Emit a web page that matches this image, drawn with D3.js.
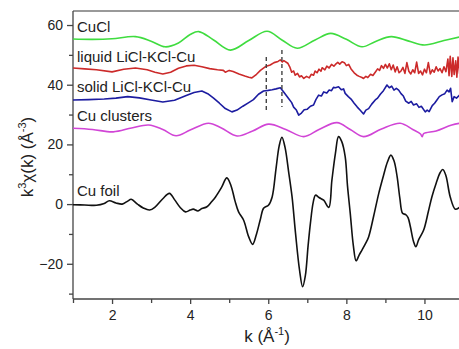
<!DOCTYPE html>
<html>
<head>
<meta charset="utf-8">
<script src="https://cdn.jsdelivr.net/npm/d3@7"></script>
<style>
  body { margin: 0; background: #fff; }
  text { font-family: "Liberation Sans", Arial, sans-serif; fill: #222; }
</style>
</head>
<body>
<svg id="chart" width="459" height="349"></svg>
<script>
// series, values already include the vertical offsets
const seriesNames = ["CuCl", "liquid LiCl-KCl-Cu", "solid LiCl-KCl-Cu", "Cu clusters", "Cu foil"];
const seriesOffsets = [55, 45, 35, 25, 0];

const cuclK = [1.0, 1.5, 2.0, 2.6, 3.0, 3.36, 3.7, 4.0, 4.22, 4.6, 5.03, 5.5, 5.97, 6.35, 6.74, 7.2, 7.6, 8.0, 8.4, 8.75, 9.15, 9.6, 10.0, 10.5, 10.9, 11.0];
const cuclV = [55.3, 55.2, 55.4, 56.1, 54.6, 52.7, 54.0, 56.8, 57.8, 55.0, 51.6, 54.8, 57.9, 55.0, 52.2, 55.0, 57.2, 55.2, 52.7, 54.5, 56.1, 54.6, 53.3, 54.8, 56.0, 56.3];

const liquidK = [1.0, 1.3, 1.6, 2.0, 2.3, 2.6, 2.9, 3.1, 3.3, 3.5, 3.7, 3.9, 4.1, 4.3, 4.5, 4.7, 4.85, 4.9, 5.0, 5.1, 5.25, 5.4, 5.5, 5.58, 5.7, 5.8, 5.93, 6.05, 6.15, 6.25, 6.31, 6.36, 6.4, 6.5, 6.55, 6.6, 6.65, 6.69, 6.75, 6.8, 6.85, 6.91, 6.98, 7.05, 7.1, 7.16, 7.2, 7.25, 7.3, 7.35, 7.38, 7.45, 7.5, 7.56, 7.62, 7.68, 7.72, 7.78, 7.83, 7.89, 7.95, 8.0, 8.06, 8.12, 8.2, 8.27, 8.33, 8.4, 8.44, 8.5, 8.55, 8.62, 8.68, 8.74, 8.8, 8.85, 8.9, 8.95, 9.0, 9.05, 9.1, 9.15, 9.2, 9.25, 9.3, 9.35, 9.4, 9.45, 9.5, 9.55, 9.6, 9.65, 9.7, 9.75, 9.8, 9.85, 9.9, 9.95, 10.0, 10.05, 10.1, 10.15, 10.2, 10.25, 10.3, 10.35, 10.4, 10.45, 10.5, 10.55, 10.6, 10.63, 10.66, 10.7, 10.73, 10.76, 10.8, 10.83, 10.86, 10.9, 10.95, 11.0];
const liquidV = [45.6, 45.3, 45.0, 44.3, 45.2, 45.6, 45.0, 44.2, 43.6, 44.2, 45.5, 46.3, 46.5, 46.0, 45.4, 45.0, 44.8, 44.2, 44.8, 44.4, 43.6, 42.9, 42.5, 42.3, 43.5, 44.8, 46.1, 46.6, 47.4, 47.8, 48.3, 47.6, 48.1, 47.2, 46.0, 44.2, 44.6, 43.2, 43.8, 42.6, 43.0, 42.1, 42.8, 42.3, 43.5, 43.2, 44.6, 44.0, 45.2, 44.5, 45.7, 45.0, 46.2, 45.6, 46.8, 46.2, 46.8, 47.5, 46.9, 47.7, 47.4, 46.4, 46.8, 45.3, 44.0, 43.2, 42.8, 42.4, 42.1, 42.8, 42.4, 43.5, 43.1, 44.2, 45.3, 44.8, 46.4, 45.5, 46.8, 45.6, 47.0, 45.0, 46.6, 44.3, 46.0, 44.0, 44.6, 45.8, 43.8, 47.4, 44.5, 43.6, 45.0, 44.0, 47.6, 43.8, 44.6, 43.3, 45.2, 44.0, 47.4, 43.6, 45.0, 44.2, 46.0, 44.6, 45.4, 44.0, 46.0, 44.4, 48.6, 43.0, 49.5, 42.8, 49.0, 43.4, 48.0, 42.5, 49.3, 43.8, 48.0, 44.0];

const solidK = [1.0, 1.4, 1.8, 2.1, 2.4, 2.7, 3.0, 3.3, 3.6, 3.9, 4.1, 4.3, 4.45, 4.6, 4.75, 4.9, 5.07, 5.2, 5.35, 5.5, 5.62, 5.75, 5.88, 6.0, 6.1, 6.2, 6.31, 6.4, 6.52, 6.6, 6.65, 6.72, 6.78, 6.85, 6.92, 7.0, 7.08, 7.16, 7.22, 7.29, 7.36, 7.42, 7.5, 7.56, 7.62, 7.67, 7.72, 7.8, 7.87, 7.93, 7.97, 8.05, 8.12, 8.2, 8.28, 8.35, 8.44, 8.5, 8.57, 8.65, 8.74, 8.8, 8.87, 8.95, 9.04, 9.1, 9.16, 9.22, 9.28, 9.34, 9.4, 9.46, 9.52, 9.6, 9.66, 9.72, 9.8, 9.86, 9.92, 10.02, 10.07, 10.12, 10.2, 10.26, 10.32, 10.38, 10.45, 10.52, 10.58, 10.63, 10.67, 10.71, 10.76, 10.82, 10.9, 11.0];
const solidV = [34.9, 35.0, 35.2, 35.5, 36.0, 35.6, 34.9, 34.2, 34.8, 36.4, 37.4, 37.9, 37.0, 35.5, 33.8, 32.0, 30.9, 31.5, 32.8, 34.0, 35.0, 36.8, 37.9, 38.1, 38.3, 38.6, 39.0, 37.5, 35.4, 34.0, 32.5, 31.5, 29.8, 30.5, 31.6, 31.8, 32.8, 33.2, 35.0, 36.5, 36.2, 37.6, 37.2, 38.2, 38.0, 39.1, 39.0, 39.3, 38.3, 38.6, 37.1, 36.0, 35.2, 33.8, 32.5, 31.5, 30.2, 31.5, 32.0, 33.5, 34.9, 35.5, 36.8, 38.0, 39.9, 39.0, 39.5, 38.2, 38.8, 38.2, 37.0, 36.2, 34.5, 33.8, 34.4, 33.2, 33.6, 32.4, 32.8, 30.9, 31.5, 31.0, 33.0, 33.8, 34.9, 36.0, 36.6, 37.0, 38.2, 37.6, 38.8, 34.3, 36.0, 35.5, 36.5, 37.0];

const clusterK = [1.0, 1.5, 2.03, 2.5, 2.94, 3.3, 3.64, 4.0, 4.47, 4.8, 5.2, 5.6, 6.01, 6.45, 6.91, 7.3, 7.76, 8.1, 8.44, 8.9, 9.38, 9.7, 9.9, 9.94, 9.98, 10.3, 10.7, 11.0];
const clusterV = [25.4, 25.0, 24.2, 25.5, 26.5, 25.0, 22.9, 24.8, 27.1, 25.5, 22.8, 24.5, 26.8, 25.0, 22.6, 25.0, 27.3, 25.0, 22.6, 25.2, 27.1, 25.0, 23.5, 22.6, 23.6, 24.5, 26.5, 27.3];

const foilK = [1.0, 1.3, 1.6, 1.8, 1.93, 2.1, 2.26, 2.4, 2.49, 2.65, 2.8, 2.96, 3.1, 3.3, 3.47, 3.6, 3.75, 3.88, 4.0, 4.08, 4.2, 4.3, 4.43, 4.55, 4.65, 4.8, 4.94, 5.05, 5.15, 5.24, 5.37, 5.5, 5.6, 5.7, 5.8, 5.88, 6.01, 6.1, 6.2, 6.28, 6.35, 6.43, 6.52, 6.61, 6.7, 6.8, 6.88, 6.95, 7.02, 7.08, 7.15, 7.21, 7.3, 7.42, 7.55, 7.63, 7.72, 7.8, 7.88, 7.97, 8.03, 8.1, 8.18, 8.25, 8.33, 8.4, 8.5, 8.57, 8.7, 8.83, 8.95, 9.05, 9.14, 9.22, 9.3, 9.37, 9.44, 9.52, 9.58, 9.64, 9.72, 9.78, 9.85, 9.98, 10.1, 10.19, 10.3, 10.4, 10.47, 10.55, 10.66, 10.79, 10.9, 11.0];
const foilV = [-0.2, -0.3, -0.4, 0.2, 1.1, 0.4, 0.0, 1.0, 1.6, 0.0, -1.3, -2.0, -1.0, 1.8, 3.6, 1.5, -1.2, -2.6, -2.0, -1.7, -2.3, -1.5, -0.9, 0.8, 2.4, 5.5, 8.8, 6.0, 1.0, -2.6, -5.4, -11.0, -13.5, -10.0, -5.0, -1.4, -0.3, 2.4, 12.0, 19.5, 22.4, 19.0, 11.0, 2.4, -10.0, -22.0, -27.7, -24.0, -14.0, -6.4, 0.5, 3.0, 2.2, 1.3, -1.1, 8.0, 17.0, 22.6, 21.0, 15.9, 6.0, -3.1, -14.0, -19.0, -17.0, -15.4, -13.0, -11.0, -4.0, 3.6, 9.5, 14.0, 16.4, 14.5, 9.2, 2.0, -3.1, -3.5, -4.5, -7.6, -12.5, -14.3, -12.0, -8.7, -2.5, 2.4, 7.0, 10.5, 11.6, 9.5, 2.4, -1.7, -1.1, 0.5];

// dashed markers on the liquid / solid curves
const dashK = [5.95, 6.35];
const dashTop = [49.3, 51.6];
const dashBottom = [30.8, 32.5];

const xTicks = [2, 4, 6, 8, 10];
const xMinorTicks = [1, 3, 5, 7, 9, 11];
const yTicks = [-20, 0, 20, 40, 60];
const yMinorTicks = [-30, -10, 10, 30, 50];

const svg = d3.select("#chart");
const W = 459;
const plotLeft = 73, plotTop = 11, plotBottom = 299;

const x = d3.scaleLinear().domain([1, 11]).range([plotLeft, plotLeft + 390.5]);
const y = d3.scaleLinear().domain([-31.8, 64.7]).range([plotBottom, plotTop]);

svg.append("defs").append("clipPath").attr("id", "plotClip")
  .append("rect")
  .attr("x", plotLeft).attr("y", plotTop)
  .attr("width", W - plotLeft).attr("height", plotBottom - plotTop);

// frame top line
svg.append("line")
  .attr("x1", plotLeft).attr("x2", W)
  .attr("y1", plotTop).attr("y2", plotTop)
  .attr("stroke", "#777").attr("stroke-width", 1.3);

// axes
const xAxis = d3.axisBottom(x).tickValues(xTicks).tickSize(5).tickPadding(6).tickFormat(d3.format("d"));
const xMinor = d3.axisBottom(x).tickValues(xMinorTicks).tickSize(4).tickFormat("");
const yAxis = d3.axisLeft(y).tickValues(yTicks).tickSize(6).tickPadding(4).tickFormat(d3.format("d"));
const yMinor = d3.axisLeft(y).tickValues(yMinorTicks).tickSize(4).tickFormat("");

const gx = svg.append("g").attr("transform", `translate(0,${plotBottom})`).call(xAxis);
svg.append("g").attr("transform", `translate(0,${plotBottom})`).call(xMinor).select(".domain").remove();
const gy = svg.append("g").attr("transform", `translate(${plotLeft},0)`).call(yAxis);
svg.append("g").attr("transform", `translate(${plotLeft},0)`).call(yMinor).select(".domain").remove();

gx.select(".domain").attr("d", `M${plotLeft},0H${W}`);
gy.select(".domain").attr("d", `M0,${plotBottom}V${plotTop}`);

svg.selectAll(".domain, .tick line").attr("stroke", "#444").attr("stroke-width", 1.3);
svg.selectAll(".tick text").style("font-size", "14px").attr("fill", "#222");

// curves
const data = [
  { k: cuclK, v: cuclV, color: "#3fdc3f", curve: d3.curveCatmullRom },
  { k: liquidK, v: liquidV, color: "#cc2a2a", curve: d3.curveLinear },
  { k: solidK, v: solidV, color: "#1c1ca0", curve: d3.curveLinear },
  { k: clusterK, v: clusterV, color: "#d145d6", curve: d3.curveCatmullRom },
  { k: foilK, v: foilV, color: "#111", curve: d3.curveCatmullRom }
];

const plot = svg.append("g").attr("clip-path", "url(#plotClip)");

data.forEach(s => {
  const pts = s.k.map((k, i) => [k, s.v[i]]);
  const line = d3.line()
    .x(d => x(d[0]))
    .y(d => y(d[1]))
    .curve(s.curve);
  plot.append("path")
    .datum(pts)
    .attr("d", line)
    .attr("fill", "none")
    .attr("stroke", s.color)
    .attr("stroke-width", 1.6)
    .attr("stroke-linejoin", "round");
});

// dashed vertical markers
plot.selectAll(".dash")
  .data(dashK)
  .enter()
  .append("line")
  .attr("class", "dash")
  .attr("x1", d => x(d)).attr("x2", d => x(d))
  .attr("y1", (d, i) => y(dashTop[i]))
  .attr("y2", (d, i) => y(dashBottom[i]))
  .attr("stroke", "#444")
  .attr("stroke-width", 1.4)
  .attr("stroke-dasharray", "4,3");

// series labels
svg.selectAll(".lbl")
  .data(seriesNames)
  .enter()
  .append("text")
  .attr("class", "lbl")
  .attr("x", plotLeft + 4)
  .attr("y", (d, i) => y(seriesOffsets[i]) - 8)
  .style("font-size", "15px")
  .text(d => d);

// axis titles
const xt = svg.append("text")
  .attr("x", 267).attr("y", 342)
  .attr("text-anchor", "middle")
  .style("font-size", "17px");
xt.append("tspan").text("k (Å");
xt.append("tspan").attr("dy", -7).style("font-size", "11px").text("-1");
xt.append("tspan").attr("dy", 7).text(")");

const yt = svg.append("text")
  .attr("transform", "translate(33,157) rotate(-90)")
  .attr("text-anchor", "middle")
  .style("font-size", "17px");
yt.append("tspan").text("k");
yt.append("tspan").attr("dy", -7).style("font-size", "11px").text("3");
yt.append("tspan").attr("dy", 7).text("χ(k) (Å");
yt.append("tspan").attr("dy", -7).style("font-size", "11px").text("-3");
yt.append("tspan").attr("dy", 7).text(")");
</script>
</body>
</html>
